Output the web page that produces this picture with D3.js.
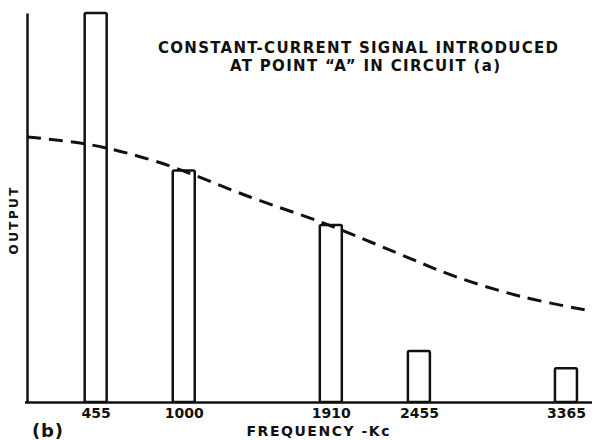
<!DOCTYPE html>
<html>
<head>
<meta charset="utf-8">
<script src="https://cdn.jsdelivr.net/npm/d3@7"></script>
<style>
  html, body { margin: 0; padding: 0; background: #fff; }
  svg { display: block; }
  text { font-family: "DejaVu Sans", sans-serif; font-weight: bold; fill: #111; }
</style>
</head>
<body>
<svg id="chart" width="592" height="440"></svg>
<script>
// Signal frequencies (Kc) and the relative output at each one
const frequencies = [455, 1000, 1910, 2455, 3365];
const outputs = [100, 59.5, 45.5, 13.1, 8.7];
const tickLabels = ["455", "1000", "1910", "2455", "3365"];

// Response curve for the constant-current signal (frequency, output)
const curveFreq = [30, 400, 840, 1410, 1910, 2320, 2690, 3100, 3520];
const curveOut = [68.1, 66.3, 61.7, 52.7, 45.3, 38.3, 32.1, 27.0, 23.4];

const titleLines = ["CONSTANT-CURRENT SIGNAL INTRODUCED", "AT POINT \u201CA\u201D IN CIRCUIT (a)"];
const xTitle = "FREQUENCY -Kc";
const yTitle = "OUTPUT";
const panelTag = "(b)";

const svg = d3.select("#chart");
const plotLeft = 27, plotRight = 592, plotTop = 13, plotBottom = 402;

const x = d3.scaleLinear().domain([30, 3520]).range([plotLeft, plotRight - 1]);
const y = d3.scaleLinear().domain([0, 100]).range([plotBottom, plotTop]);
const barW = 22;

// Bars: open rectangles standing on the baseline
svg.append("g")
  .selectAll("rect")
  .data(frequencies)
  .join("rect")
  .attr("x", (d) => x(d) - barW / 2)
  .attr("y", (d, i) => y(outputs[i]))
  .attr("width", barW)
  .attr("height", (d, i) => y(0) - y(outputs[i]))
  .attr("rx", 1.5)
  .attr("fill", "#fff")
  .attr("stroke", "#111")
  .attr("stroke-width", 2.5);

// Dashed response curve
const line = d3.line()
  .x((d) => x(d[0]))
  .y((d) => y(d[1]))
  .curve(d3.curveCatmullRom.alpha(0.5));
svg.append("path")
  .datum(curveFreq.map((f, i) => [f, curveOut[i]]))
  .attr("d", line)
  .attr("fill", "none")
  .attr("stroke", "#111")
  .attr("stroke-width", 3)
  .attr("stroke-dasharray", "14 8");

// Axes
const xAxis = svg.append("g")
  .attr("transform", `translate(0,${plotBottom})`)
  .call(d3.axisBottom(x).tickValues(frequencies).tickSize(0).tickSizeOuter(0)
    .tickFormat((d, i) => tickLabels[i]).tickPadding(6));
xAxis.select(".domain").attr("stroke", "#111").attr("stroke-width", 2.5)
  .attr("d", `M${plotLeft - 2},0.5H${plotRight}`);
xAxis.selectAll("text").attr("font-size", 14).attr("font-family", "DejaVu Sans")
  .attr("font-weight", "bold").attr("fill", "#111");

const yAxis = svg.append("g")
  .attr("transform", `translate(${plotLeft},0)`)
  .call(d3.axisLeft(y).tickValues([]).tickSizeOuter(0));
yAxis.select(".domain").attr("stroke", "#111").attr("stroke-width", 2.5);

// Labels
svg.append("text")
  .attr("x", 318).attr("y", 436)
  .attr("text-anchor", "middle")
  .attr("font-size", 14)
  .attr("textLength", 143).attr("lengthAdjust", "spacing")
  .text(xTitle);

svg.append("text")
  .attr("x", 32).attr("y", 437)
  .attr("font-size", 18)
  .attr("textLength", 31).attr("lengthAdjust", "spacing")
  .text(panelTag);

svg.append("text")
  .attr("transform", "translate(18,221) rotate(-90)")
  .attr("text-anchor", "middle")
  .attr("font-size", 12)
  .attr("textLength", 67).attr("lengthAdjust", "spacing")
  .text(yTitle);

const titleX = [358, 365], titleY = [53, 71], titleW = [400, 270];
svg.append("g")
  .selectAll("text")
  .data(titleLines)
  .join("text")
  .attr("x", (d, i) => titleX[i])
  .attr("y", (d, i) => titleY[i])
  .attr("text-anchor", "middle")
  .attr("font-size", 15)
  .attr("textLength", (d, i) => titleW[i])
  .attr("lengthAdjust", "spacing")
  .text((d) => d);
</script>
</body>
</html>
